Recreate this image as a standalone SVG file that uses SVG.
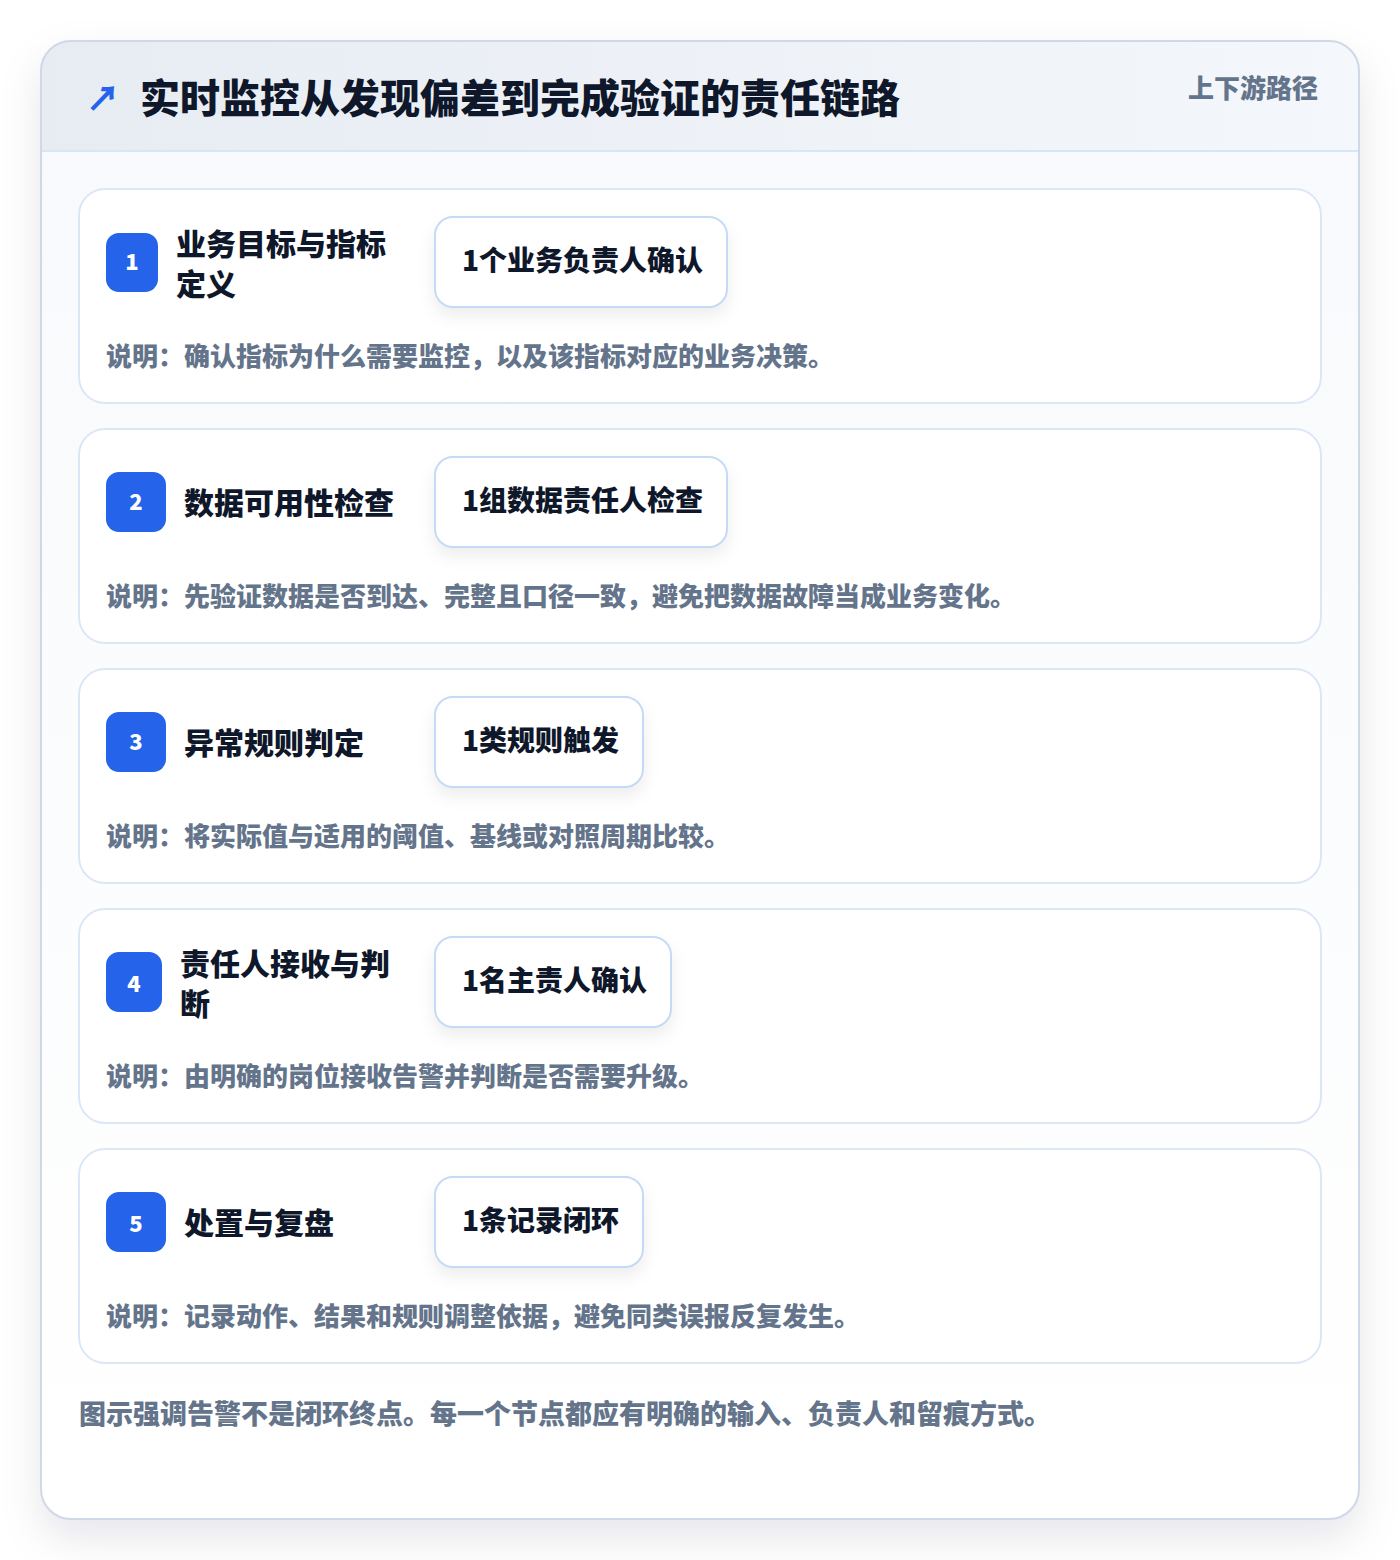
<svg xmlns="http://www.w3.org/2000/svg" width="1400" height="1560" viewBox="0 0 1400 1560">
<defs>
<linearGradient id="hdr" x1="0" y1="0" x2="1" y2="0"><stop offset="0" stop-color="#e7ecf3"/><stop offset="1" stop-color="#f4f7fb"/></linearGradient>
<linearGradient id="body" x1="0" y1="0" x2="0" y2="1"><stop offset="0" stop-color="#f7f9fc"/><stop offset="1" stop-color="#ffffff"/></linearGradient>
<clipPath id="cardclip"><rect x="41" y="41" width="1318" height="1478" rx="30"/></clipPath>
<filter id="outerShadow" x="-10%" y="-10%" width="120%" height="120%"><feDropShadow dx="0" dy="18" stdDeviation="20" flood-color="#0f172a" flood-opacity="0.10"/></filter>
<filter id="pillShadow" x="-20%" y="-30%" width="140%" height="180%"><feDropShadow dx="0" dy="8" stdDeviation="8" flood-color="#0f172a" flood-opacity="0.07"/></filter>
</defs>
<style>
.cjk{font-family:"Noto Sans CJK SC","Noto Sans",sans-serif;font-weight:900}
.title{font-size:40px;fill:#0f172a}
.sub{font-size:26px;fill:#64748b}
.step{fill:#ffffff;stroke:#dbe7f6;stroke-width:2}
.badge{fill:#2563eb}
.num{font-family:"Noto Sans CJK SC","Noto Sans",sans-serif;font-weight:900;font-size:22px;fill:#ffffff}
.stitle{font-size:30px;fill:#0f172a}
.pill{fill:#ffffff;stroke:#c5daf4;stroke-width:2}
.ptext{font-size:28px;fill:#0f172a}
.desc{font-size:26px;fill:#64748b}
</style>
<rect width="1400" height="1560" fill="#ffffff"/>
<g id="frame">
<rect x="41" y="41" width="1318" height="1478" rx="30" fill="url(#body)" filter="url(#outerShadow)"/>
<g clip-path="url(#cardclip)"><rect x="41" y="41" width="1318" height="110" fill="url(#hdr)"/></g>
<line x1="41" y1="151" x2="1359" y2="151" stroke="#d8e5f5" stroke-width="2"/>
<rect x="41" y="41" width="1318" height="1478" rx="30" fill="none" stroke="#cfd8e6" stroke-width="2"/>
</g>
<g id="header">
<text x="86" y="111" class="cjk" font-size="34" fill="#2563eb">↗</text>
<text x="140" y="113" class="cjk title">实时监控从发现偏差到完成验证的责任链路</text>
<text x="1318" y="98" class="cjk sub" text-anchor="end">上下游路径</text>
</g>
<g id="connectors"></g>
<g id="step1">
<rect x="79" y="189" width="1242" height="214" rx="26" class="step"/>
<rect x="106" y="233" width="52" height="59" rx="13" class="badge"/>
<text x="132" y="270" class="num" text-anchor="middle">1</text>
<text x="176" y="255" class="cjk stitle">业务目标与指标</text>
<text x="176" y="295" class="cjk stitle">定义</text>
<rect x="435" y="217" width="292" height="90" rx="18" class="pill" filter="url(#pillShadow)"/>
<text x="462" y="271" class="cjk ptext">1个业务负责人确认</text>
<text x="106" y="366" class="cjk desc">说明：确认指标为什么需要监控，以及该指标对应的业务决策。</text>
</g>
<g id="step2">
<rect x="79" y="429" width="1242" height="214" rx="26" class="step"/>
<rect x="106" y="472" width="60" height="60" rx="13" class="badge"/>
<text x="136" y="510" class="num" text-anchor="middle">2</text>
<text x="184" y="514" class="cjk stitle">数据可用性检查</text>
<rect x="435" y="457" width="292" height="90" rx="18" class="pill" filter="url(#pillShadow)"/>
<text x="462" y="511" class="cjk ptext">1组数据责任人检查</text>
<text x="106" y="606" class="cjk desc">说明：先验证数据是否到达、完整且口径一致，避免把数据故障当成业务变化。</text>
</g>
<g id="step3">
<rect x="79" y="669" width="1242" height="214" rx="26" class="step"/>
<rect x="106" y="712" width="60" height="60" rx="13" class="badge"/>
<text x="136" y="750" class="num" text-anchor="middle">3</text>
<text x="184" y="754" class="cjk stitle">异常规则判定</text>
<rect x="435" y="697" width="208" height="90" rx="18" class="pill" filter="url(#pillShadow)"/>
<text x="462" y="751" class="cjk ptext">1类规则触发</text>
<text x="106" y="846" class="cjk desc">说明：将实际值与适用的阈值、基线或对照周期比较。</text>
</g>
<g id="step4">
<rect x="79" y="909" width="1242" height="214" rx="26" class="step"/>
<rect x="106" y="952" width="56" height="60" rx="13" class="badge"/>
<text x="134" y="992" class="num" text-anchor="middle">4</text>
<text x="180" y="975" class="cjk stitle">责任人接收与判</text>
<text x="180" y="1015" class="cjk stitle">断</text>
<rect x="435" y="937" width="236" height="90" rx="18" class="pill" filter="url(#pillShadow)"/>
<text x="462" y="991" class="cjk ptext">1名主责人确认</text>
<text x="106" y="1086" class="cjk desc">说明：由明确的岗位接收告警并判断是否需要升级。</text>
</g>
<g id="step5">
<rect x="79" y="1149" width="1242" height="214" rx="26" class="step"/>
<rect x="106" y="1192" width="60" height="60" rx="13" class="badge"/>
<text x="136" y="1232" class="num" text-anchor="middle">5</text>
<text x="184" y="1234" class="cjk stitle">处置与复盘</text>
<rect x="435" y="1177" width="208" height="90" rx="18" class="pill" filter="url(#pillShadow)"/>
<text x="462" y="1231" class="cjk ptext">1条记录闭环</text>
<text x="106" y="1326" class="cjk desc">说明：记录动作、结果和规则调整依据，避免同类误报反复发生。</text>
</g>
<g id="footer">
<text x="79" y="1424" class="cjk" font-size="27" fill="#64748b">图示强调告警不是闭环终点。每一个节点都应有明确的输入、负责人和留痕方式。</text>
</g>
</svg>
